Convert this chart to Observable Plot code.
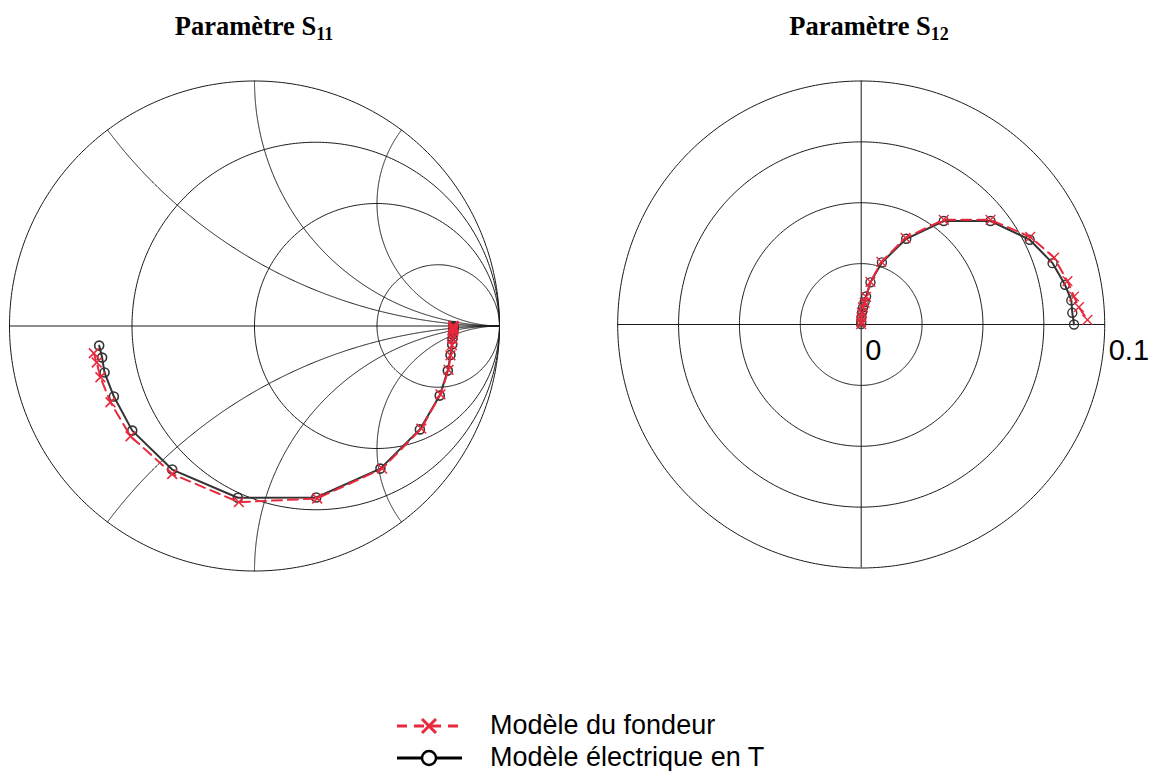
<!DOCTYPE html>
<html><head><meta charset="utf-8">
<script src="https://cdn.jsdelivr.net/npm/d3@7"></script>
<script src="https://cdn.jsdelivr.net/npm/@observablehq/plot@0.6"></script>
<style>
body{margin:0;background:#fff;}
#root{position:relative;width:1152px;height:771px;overflow:hidden;background:#fff;}
.chart{position:absolute;top:0;}
#overlay{position:absolute;left:0;top:0;}
</style></head>
<body><div id="root"><div id="left" class="chart" style="left:0px"></div><div id="right" class="chart" style="left:576px"></div></div>
<script>
// ---- Data: S11 (reflection coefficient, real / imaginary) ----
const s11ElecRe = [0.812,0.812,0.812,0.812,0.812,0.812,0.811,0.810,0.808,0.807,0.800,0.789,0.756,0.675,0.514,0.252,-0.068,-0.336,-0.499,-0.574,-0.612,-0.622,-0.634];
const s11ElecIm = [0.000,-0.001,-0.002,-0.004,-0.008,-0.014,-0.022,-0.035,-0.052,-0.075,-0.118,-0.182,-0.284,-0.422,-0.582,-0.700,-0.701,-0.586,-0.427,-0.288,-0.190,-0.129,-0.080];
const s11FondRe = [0.812,0.812,0.812,0.812,0.812,0.812,0.811,0.810,0.808,0.806,0.800,0.792,0.759,0.681,0.521,0.256,-0.064,-0.336,-0.506,-0.588,-0.629,-0.644,-0.656];
const s11FondIm = [0.000,-0.001,-0.002,-0.004,-0.008,-0.014,-0.022,-0.035,-0.053,-0.078,-0.120,-0.179,-0.279,-0.419,-0.582,-0.704,-0.719,-0.604,-0.450,-0.311,-0.209,-0.149,-0.111];
// ---- Data: S12 ----
const s12ElecRe = [0.0000,0.0000,0.0001,0.0004,0.0008,0.0014,0.0020,0.0038,0.0085,0.0185,0.0339,0.0531,0.0692,0.0786,0.0837,0.0863,0.0867,0.0874];
const s12ElecIm = [0.0002,0.0012,0.0030,0.0051,0.0071,0.0092,0.0115,0.0173,0.0255,0.0352,0.0425,0.0425,0.0348,0.0252,0.0163,0.0099,0.0048,0.0000];
const s12FondRe = [0.0000,0.0000,0.0001,0.0003,0.0007,0.0014,0.0020,0.0038,0.0083,0.0182,0.0339,0.0531,0.0694,0.0792,0.0847,0.0874,0.0894,0.0929];
const s12FondIm = [0.0002,0.0012,0.0029,0.0049,0.0070,0.0090,0.0113,0.0175,0.0257,0.0356,0.0430,0.0430,0.0360,0.0275,0.0178,0.0115,0.0071,0.0019];
// ---- Grid definitions ----
const smithResistances = [0, 1/3, 1, 3];
const smithReactances = [0.5, 1, 2, -0.5, -1, -2];
const polarRings = [0.025, 0.05, 0.075, 0.1];
const polarTickLabels = [{v: 0, label: "0"}, {v: 0.1, label: "0.1"}];
const titles = ["Paramètre S", "Paramètre S"];
const titleSubs = ["11", "12"];
const seriesNames = ["Modèle du fondeur", "Modèle électrique en T"];

const RED = "#e8283c", DARK = "#333333", GRID = "#1a1a1a";
const toRows = (re, im) => re.map((r, i) => ({re: r, im: im[i]}));

// Smith chart grid geometry
const gridRows = [];
smithResistances.forEach((r, k) => {
  const cx = r / (r + 1), rad = 1 / (r + 1);
  for (let i = 0; i <= 400; i++) {
    const a = 2 * Math.PI * i / 400;
    gridRows.push({id: "r" + k, x: cx + rad * Math.cos(a), y: rad * Math.sin(a)});
  }
});
smithReactances.forEach((xv, k) => {
  for (let i = 0; i <= 600; i++) {
    const u = i / 600;
    if (u >= 1) { gridRows.push({id: "x" + k, x: 1, y: 0}); continue; }
    const s = Math.pow(u, 2) / (1 - u) * 3;
    const den = (s + 1) * (s + 1) + xv * xv;
    gridRows.push({id: "x" + k, x: (s * s - 1 + xv * xv) / den, y: 2 * xv / den});
  }
});

const left = Plot.plot({
  width: 576, height: 600,
  x: {domain: [-1, 1], range: [9, 499], axis: null},
  y: {domain: [-1, 1], range: [570.5, 80.5], axis: null},
  marks: [
    Plot.line(gridRows, {x: "x", y: "y", z: "id", stroke: GRID, strokeWidth: 1}),
    Plot.ruleY([0], {x1: -1, x2: 1, stroke: GRID, strokeWidth: 1}),
    Plot.line(toRows(s11ElecRe, s11ElecIm), {x: "re", y: "im", stroke: DARK, strokeWidth: 2}),
    Plot.dot(toRows(s11ElecRe, s11ElecIm), {x: "re", y: "im", r: 4.5, stroke: DARK, strokeWidth: 1.6, fill: "none"}),
    Plot.line(toRows(s11FondRe, s11FondIm), {x: "re", y: "im", stroke: RED, strokeWidth: 2, strokeDasharray: "10,6"}),
    Plot.dot(toRows(s11FondRe, s11FondIm), {x: "re", y: "im", r: 4.5, symbol: "times", stroke: RED, strokeWidth: 1.6})
  ]
});
document.getElementById("left").appendChild(left);

// Polar grid
const ringRows = [];
polarRings.forEach((rv, k) => {
  for (let i = 0; i <= 400; i++) {
    const a = 2 * Math.PI * i / 400;
    ringRows.push({id: k, x: rv * Math.cos(a), y: rv * Math.sin(a)});
  }
});
const rmax = d3.max(polarRings);
const right = Plot.plot({
  width: 576, height: 600,
  x: {domain: [-0.1, 0.1], range: [284.7 - 243.5, 284.7 + 243.5], axis: null},
  y: {domain: [-0.1, 0.1], range: [324 + 243.5, 324 - 243.5], axis: null},
  marks: [
    Plot.line(ringRows, {x: "x", y: "y", z: "id", stroke: GRID, strokeWidth: 1}),
    Plot.ruleY([0], {x1: -rmax, x2: rmax, stroke: GRID, strokeWidth: 1}),
    Plot.ruleX([0], {y1: -rmax, y2: rmax, stroke: GRID, strokeWidth: 1}),
    Plot.text(polarTickLabels, {x: "v", y: 0, text: "label", textAnchor: "start", dx: 4, dy: 26, fontSize: 29, fontFamily: "Liberation Sans, Arial, sans-serif", fill: "#000"}),
    Plot.line(toRows(s12ElecRe, s12ElecIm), {x: "re", y: "im", stroke: DARK, strokeWidth: 2}),
    Plot.dot(toRows(s12ElecRe, s12ElecIm), {x: "re", y: "im", r: 4.5, stroke: DARK, strokeWidth: 1.4, fill: "none"}),
    Plot.line(toRows(s12FondRe, s12FondIm), {x: "re", y: "im", stroke: RED, strokeWidth: 2, strokeDasharray: "10,6"}),
    Plot.dot(toRows(s12FondRe, s12FondIm), {x: "re", y: "im", r: 4.5, symbol: "times", stroke: RED, strokeWidth: 1.4})
  ]
});
document.getElementById("right").appendChild(right);

// Titles and legend overlay
const ns = "http://www.w3.org/2000/svg";
const ov = document.createElementNS(ns, "svg");
ov.setAttribute("id", "overlay"); ov.setAttribute("width", 1152); ov.setAttribute("height", 771);
const titleX = [254, 869];
titles.forEach((t, i) => {
  const tx = document.createElementNS(ns, "text");
  tx.setAttribute("x", titleX[i]); tx.setAttribute("y", 35);
  tx.setAttribute("text-anchor", "middle");
  tx.setAttribute("font-family", "Liberation Serif, Times New Roman, serif");
  tx.setAttribute("font-weight", "bold"); tx.setAttribute("font-size", 26.5);
  tx.appendChild(document.createTextNode(t));
  const sub = document.createElementNS(ns, "tspan");
  sub.setAttribute("font-size", 18); sub.setAttribute("dy", 5);
  sub.textContent = titleSubs[i];
  tx.appendChild(sub);
  ov.appendChild(tx);
});
function el(name, attrs) { const e = document.createElementNS(ns, name); for (const k in attrs) e.setAttribute(k, attrs[k]); ov.appendChild(e); return e; }
const ly = [726, 758];
el("line", {x1: 397, x2: 462, y1: ly[0], y2: ly[0], stroke: RED, "stroke-width": 3, "stroke-dasharray": "10,7"});
el("path", {d: `M${429-7},${ly[0]-7}L${429+7},${ly[0]+7}M${429-7},${ly[0]+7}L${429+7},${ly[0]-7}`, stroke: RED, "stroke-width": 3, fill: "none"});
el("line", {x1: 397, x2: 462, y1: ly[1], y2: ly[1], stroke: "#000", "stroke-width": 3});
el("circle", {cx: 429, cy: ly[1], r: 7, stroke: "#000", "stroke-width": 2.5, fill: "#fff"});
seriesNames.forEach((n, i) => {
  const t = el("text", {x: 490, y: ly[i] + 8, "font-family": "Liberation Sans, Arial, sans-serif", "font-size": 27, fill: "#000"});
  t.textContent = n;
});
document.getElementById("root").appendChild(ov);
</script>
</body></html>
